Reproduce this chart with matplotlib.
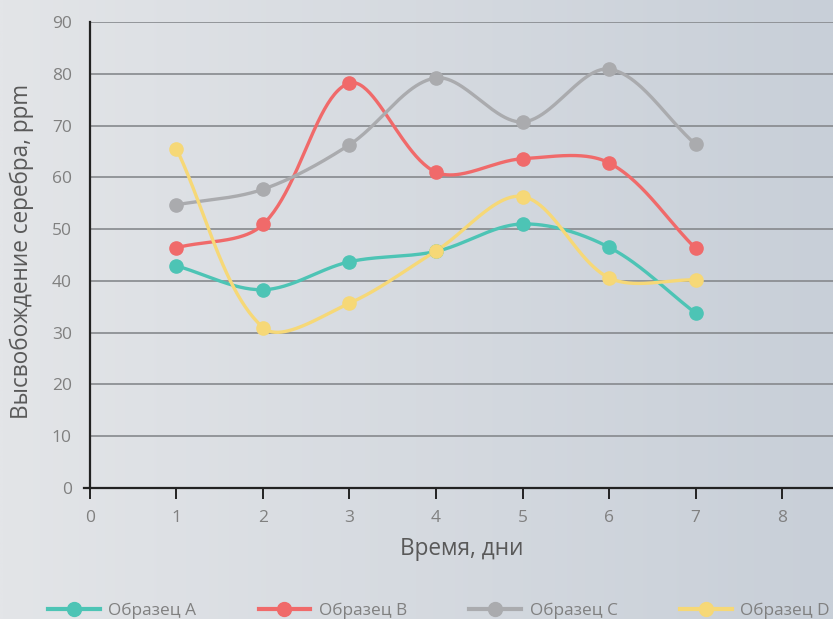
import numpy as np
import matplotlib
matplotlib.use("Agg")
import matplotlib.pyplot as plt
from matplotlib.colors import LinearSegmentedColormap

plt.rcParams['font.family'] = ['Open Sans', 'DejaVu Sans']

days = [1, 2, 3, 4, 5, 6, 7]
sample_a = [42.9, 38.3, 43.7, 45.7, 51.0, 46.5, 33.8]
sample_b = [46.4, 50.9, 78.2, 61.0, 63.6, 62.8, 46.3]
sample_c = [54.7, 57.7, 66.3, 79.2, 70.7, 80.9, 66.4]
sample_d = [65.5, 31.0, 35.7, 45.8, 56.3, 40.6, 40.2]
names = ['Образец A', 'Образец B', 'Образец C', 'Образец D']
colors = ['#4dc4b5', '#f06a6a', '#aaabae', '#f6d877']

# pixels per data unit, used so the smoothing works in screen space
SX, SY = 86.5, 5.178


def smooth(x, y, n=50):
    # Bezier smoothing; control arms scaled by neighbouring segment lengths
    p = np.column_stack([np.asarray(x, float), np.asarray(y, float)])
    k = len(p)
    d = np.hypot(np.diff(p[:, 0]) * SX, np.diff(p[:, 1]) * SY)
    tang = np.zeros_like(p)
    w_in = np.zeros(k)
    w_out = np.zeros(k)
    for i in range(k):
        if 0 < i < k - 1:
            tang[i] = p[i + 1] - p[i - 1]
            tot = d[i - 1] + d[i]
            w_in[i] = d[i - 1] / tot / 3
            w_out[i] = d[i] / tot / 3
    xs, ys = [], []
    t = np.linspace(0, 1, n)[:, None]
    for i in range(k - 1):
        p0, p3 = p[i], p[i + 1]
        p1 = p0 + tang[i] * w_out[i] if i > 0 else p0 + (p3 - p0) / 3
        p2 = p3 - tang[i + 1] * w_in[i + 1] if i + 1 < k - 1 else p3 - (p3 - p0) / 3
        b = (1 - t) ** 3 * p0 + 3 * (1 - t) ** 2 * t * p1 + 3 * (1 - t) * t ** 2 * p2 + t ** 3 * p3
        xs.extend(b[:, 0])
        ys.extend(b[:, 1])
    return xs, ys


fig = plt.figure(figsize=(8.33, 6.19), dpi=100)

# background gradient
bg = fig.add_axes([0, 0, 1, 1], zorder=-10)
gx = np.linspace(0, 1, 400)
grad = np.tile(gx, (50, 1))
cmap = LinearSegmentedColormap.from_list('bg', ['#e3e5e8', '#c8cfd8'])
bg.imshow(grad, cmap=cmap, aspect='auto', extent=[0, 1, 0, 1])
bg.axis('off')

ax = fig.add_axes([0.108, 0.2116, 0.9035, 0.7528])
ax.patch.set_alpha(0)

for ys, name, c in zip([sample_a, sample_b, sample_c, sample_d], names, colors):
    sx, sy = smooth(days, ys)
    ax.plot(sx, sy, color=c, lw=2.4, solid_capstyle='round', zorder=3)
    ax.plot(days, ys, 'o', color=c, ms=9.5, zorder=4)
    ax.plot([], [], '-o', color=c, lw=3, ms=10, label=name)

ax.set_xlim(0, 8.7)
ax.set_ylim(0, 90)
ax.set_xticks(range(0, 9))
ax.set_yticks(range(0, 91, 10))
ax.yaxis.grid(True, color='#86898d', lw=1.2)
ax.set_axisbelow(True)

for s in ['top', 'right']:
    ax.spines[s].set_visible(False)
for s in ['left', 'bottom']:
    ax.spines[s].set_color('#222222')
    ax.spines[s].set_linewidth(1.6)
ax.plot([-0.07, 0], [0, 0], color='#222222', lw=1.6, clip_on=False)

ax.tick_params(axis='x', length=8, width=1.4, color='#222222', direction='out',
               labelsize=12.5, labelcolor='#808080', pad=8)
ax.tick_params(axis='y', length=0, labelsize=12.5, labelcolor='#808080', pad=13)

ax.set_xlabel('Время, дни', fontsize=16.3, color='#595959', labelpad=8, x=0.4934)
fig.text(0.026, 0.593, 'Высвобождение серебра, ppm', rotation=90, fontsize=16.3,
         color='#595959', ha='center', va='center')

fig.legend(loc='lower left', bbox_to_anchor=(0.039, -0.025), ncol=4, frameon=False,
           fontsize=12.4, labelcolor='#808080', handlelength=3.0, handletextpad=0.5,
           columnspacing=3.62)

fig.savefig('out.png', dpi=100)
